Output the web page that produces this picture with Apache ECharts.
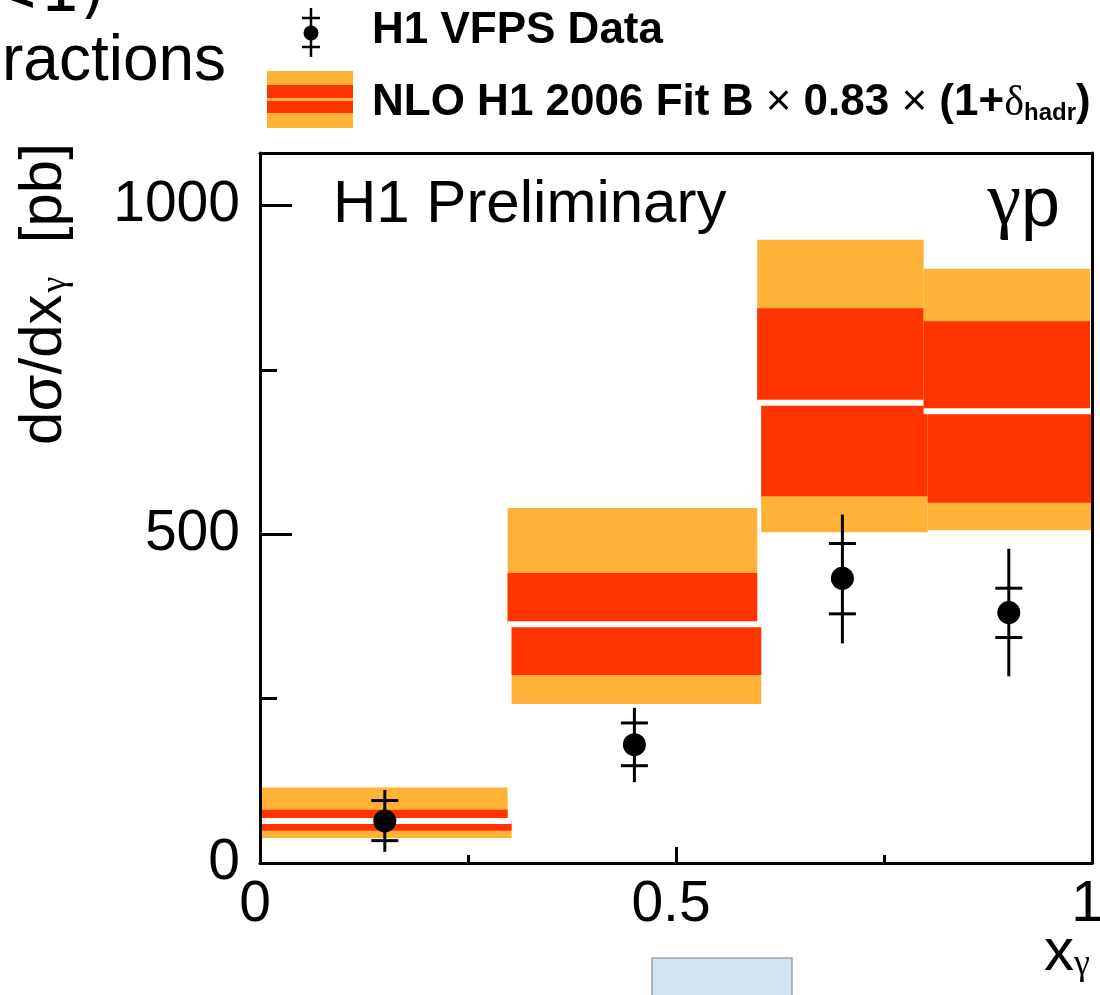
<!DOCTYPE html>
<html>
<head>
<meta charset="utf-8">
<script src="https://cdn.jsdelivr.net/npm/echarts@6/dist/echarts.min.js"></script>
<style>
html,body{margin:0;padding:0;background:#fff;}
#chart{width:1100px;height:995px;}
</style>
</head>
<body>
<div id="chart"></div>
<script>
// ---- data ----
var binLo = [0.0, 0.3, 0.6, 0.8];
var binHi = [0.3, 0.6, 0.8, 1.0];
var nloCentral = [64, 363, 700, 687];
var nloScaleLo = [49, 286, 558, 548];
var nloScaleHi = [81, 441, 844, 824];
var nloTotLo = [38, 242, 503, 506];
var nloTotHi = [115, 540, 948, 904];

var dataX = [0.15, 0.45, 0.70, 0.90];
var dataY = [64, 180, 433, 381];
var statLo = [34, 148, 379, 343];
var statHi = [95, 213, 486, 418];
var totLo = [17, 123, 334, 284];
var totHi = [111, 236, 530, 478];

var xTickLabels = {0: '0', 0.5: '0.5', 1: '1'};
var yMajorTicks = [0, 500, 1000];
var yMinorTicks = [250, 750];

// ---- styles ----
var ORANGE = '#ffb235';
var RED = '#ff3300';
var FONT = '"Liberation Sans", Arial, Helvetica, sans-serif';
var GREEK = '"Liberation Serif", "Times New Roman", serif';

var chart = echarts.init(document.getElementById('chart'), null, {renderer: 'canvas'});

var bandData = binLo.map(function (v, i) {
  return [v, binHi[i], nloTotLo[i], nloScaleLo[i], nloCentral[i], nloScaleHi[i], nloTotHi[i]];
});
var errData = dataX.map(function (v, i) {
  return [v, dataY[i], statLo[i], statHi[i], totLo[i], totHi[i]];
});
var pointData = dataX.map(function (v, i) { return [v, dataY[i]]; });

function renderBand(params, api) {
  var cs = params.coordSys;
  var xa = api.coord([api.value(0), 0])[0];
  var xb = api.coord([api.value(1), 0])[0];
  var yTL = api.coord([0, api.value(2)])[1];
  var ySL = api.coord([0, api.value(3)])[1];
  var yC = api.coord([0, api.value(4)])[1];
  var ySH = api.coord([0, api.value(5)])[1];
  var yTH = api.coord([0, api.value(6)])[1];
  function clampX(x) { return Math.max(cs.x, Math.min(cs.x + cs.width, x)); }
  // upper half drawn slightly to the left, lower half slightly to the right
  var uL = clampX(xa - 2), uR = clampX(xb - 2);
  var lL = clampX(xa + 2), lR = clampX(xb + 2);
  var wL = clampX(xa - 2), wR = clampX(xb + 2);
  return {
    type: 'group',
    children: [
      {type: 'rect', shape: {x: uL, y: yTH, width: uR - uL, height: yC - yTH}, style: {fill: ORANGE}},
      {type: 'rect', shape: {x: uL, y: ySH, width: uR - uL, height: yC - ySH}, style: {fill: RED}},
      {type: 'rect', shape: {x: lL, y: yC, width: lR - lL, height: yTL - yC}, style: {fill: ORANGE}},
      {type: 'rect', shape: {x: lL, y: yC, width: lR - lL, height: ySL - yC}, style: {fill: RED}},
      {type: 'rect', shape: {x: wL, y: yC - 3, width: wR - wL, height: 6}, style: {fill: '#ffffff'}}
    ]
  };
}

function renderErr(params, api) {
  var x = api.coord([api.value(0), 0])[0];
  var yS1 = api.coord([0, api.value(2)])[1];
  var yS2 = api.coord([0, api.value(3)])[1];
  var yT1 = api.coord([0, api.value(4)])[1];
  var yT2 = api.coord([0, api.value(5)])[1];
  var hw = 13.5;
  var st = {stroke: '#000', lineWidth: 3};
  return {
    type: 'group',
    children: [
      {type: 'line', shape: {x1: x, y1: yT1, x2: x, y2: yT2}, style: st},
      {type: 'line', shape: {x1: x - hw, y1: yS1, x2: x + hw, y2: yS1}, style: st},
      {type: 'line', shape: {x1: x - hw, y1: yS2, x2: x + hw, y2: yS2}, style: st}
    ]
  };
}

var axisLineStyle = {color: '#000', width: 3};

var option = {
  backgroundColor: '#ffffff',
  animation: false,
  grid: {left: 260, right: 8, top: 153, bottom: 132, containLabel: false, outerBoundsMode: 'none'},
  xAxis: [
    {
      type: 'value', min: 0, max: 1, interval: 0.5, position: 'bottom', z: 10,
      axisLine: {show: true, onZero: false, lineStyle: axisLineStyle},
      axisTick: {show: true, inside: true, length: 16, lineStyle: {color: '#000', width: 3}},
      minorTick: {show: true, splitNumber: 2, length: 8, lineStyle: {color: '#000', width: 3}},
      splitLine: {show: false},
      axisLabel: {
        show: true, fontSize: 57, fontFamily: FONT, color: '#000', margin: 14,
        padding: [0, 10, 0, 0], hideOverlap: false,
        formatter: function (v) { return xTickLabels[v] !== undefined ? xTickLabels[v] : ''; }
      }
    },
    {
      type: 'value', min: 0, max: 1, position: 'top', z: 10,
      axisLine: {show: true, onZero: false, lineStyle: axisLineStyle},
      axisTick: {show: false}, axisLabel: {show: false}, splitLine: {show: false}
    }
  ],
  yAxis: [
    {
      type: 'value', min: 0, max: 1080, position: 'left', z: 10,
      axisLine: {show: true, onZero: false, lineStyle: axisLineStyle},
      axisTick: {show: true, inside: true, length: 32, customValues: yMajorTicks, lineStyle: {color: '#000', width: 3}},
      axisLabel: {show: true, customValues: yMajorTicks, fontSize: 57, fontFamily: FONT, color: '#000', margin: 20,
        formatter: function (v) { return String(v); }},
      splitLine: {show: false}
    },
    {
      type: 'value', min: 0, max: 1080, position: 'left', z: 10,
      axisLine: {show: false},
      axisTick: {show: true, inside: true, length: 17, customValues: yMinorTicks, lineStyle: {color: '#000', width: 3}},
      axisLabel: {show: false}, splitLine: {show: false}
    },
    {
      type: 'value', min: 0, max: 1080, position: 'right', z: 10,
      axisLine: {show: true, onZero: false, lineStyle: axisLineStyle},
      axisTick: {show: false}, axisLabel: {show: false}, splitLine: {show: false}
    }
  ],
  series: [
    {
      type: 'custom', name: 'NLO', xAxisIndex: 0, yAxisIndex: 0, z: 2,
      renderItem: renderBand, data: bandData,
      encode: {x: [0, 1], y: [2, 6]}
    },
    {
      type: 'custom', name: 'err', xAxisIndex: 0, yAxisIndex: 0, z: 5,
      renderItem: renderErr, data: errData,
      encode: {x: 0, y: [4, 5]}
    },
    {
      type: 'scatter', name: 'H1 VFPS Data', xAxisIndex: 0, yAxisIndex: 0, z: 6,
      symbol: 'circle', symbolSize: 23, itemStyle: {color: '#000', opacity: 1},
      data: pointData
    }
  ],
  graphic: [
    // partial text cut at the top-left
    {type: 'text', x: -14, y: -6, style: {text: '<1)', fontSize: 64, fontFamily: '"DejaVu Sans", sans-serif', fill: '#000', align: 'left', verticalAlign: 'middle'}},
    {type: 'text', x: 2, y: 62, style: {text: 'ractions', fontSize: 64, fontFamily: FONT, fill: '#000', align: 'left', verticalAlign: 'middle'}},
    // legend entry 1
    {type: 'line', shape: {x1: 311, y1: 8, x2: 311, y2: 57}, style: {stroke: '#000', lineWidth: 2.5}},
    {type: 'line', shape: {x1: 302, y1: 18, x2: 320, y2: 18}, style: {stroke: '#000', lineWidth: 2.5}},
    {type: 'line', shape: {x1: 302, y1: 47, x2: 320, y2: 47}, style: {stroke: '#000', lineWidth: 2.5}},
    {type: 'circle', shape: {cx: 311, cy: 33, r: 7.5}, style: {fill: '#000'}},
    {type: 'text', x: 372, y: 31, style: {text: 'H1 VFPS Data', fontSize: 44, fontWeight: 'bold', fontFamily: FONT, fill: '#000', align: 'left', verticalAlign: 'middle'}},
    // legend entry 2
    {type: 'rect', shape: {x: 267, y: 71, width: 86, height: 57}, style: {fill: ORANGE}},
    {type: 'rect', shape: {x: 267, y: 85, width: 86, height: 13}, style: {fill: RED}},
    {type: 'rect', shape: {x: 267, y: 101, width: 86, height: 12}, style: {fill: RED}},
    {type: 'text', x: 372, y: 100, style: {
      text: '{b|NLO H1 2006 Fit B }{n|×}{b| 0.83 }{n|×}{b| (1+}{d|δ}{s|hadr}{b|)}',
      fill: '#000', align: 'left', verticalAlign: 'middle',
      rich: {
        b: {fontSize: 44, fontWeight: 'bold', fontFamily: FONT, fill: '#000', lineHeight: 50, verticalAlign: 'bottom'},
        n: {fontSize: 44, fontFamily: FONT, fill: '#000', lineHeight: 50, verticalAlign: 'bottom'},
        d: {fontSize: 42, fontFamily: GREEK, fill: '#000', lineHeight: 48, verticalAlign: 'bottom'},
        s: {fontSize: 24, fontWeight: 'bold', fontFamily: FONT, fill: '#000', lineHeight: 28, verticalAlign: 'bottom'}
      }
    }},
    // in-plot labels
    {type: 'text', x: 333, y: 205, z: 20, style: {text: 'H1 Preliminary', fontSize: 60, fontFamily: FONT, fill: '#000', align: 'left', verticalAlign: 'middle'}},
    {type: 'text', x: 1060, y: 202, z: 20, style: {
      text: '{g|γ}{p|p}', align: 'right', verticalAlign: 'middle',
      rich: {
        g: {fontSize: 76, fontFamily: GREEK, fill: '#000', lineHeight: 80, verticalAlign: 'bottom'},
        p: {fontSize: 70, fontFamily: FONT, fill: '#000', lineHeight: 80, verticalAlign: 'bottom'}
      }
    }},
    // axis titles
    {type: 'text', x: 40, y: 294, rotation: Math.PI / 2, style: {
      text: '{m|dσ/dx}{s|γ}{m|  [pb]}', align: 'center', verticalAlign: 'middle',
      rich: {
        m: {fontSize: 60, fontFamily: FONT, fill: '#000', lineHeight: 68, verticalAlign: 'bottom'},
        s: {fontSize: 36, fontFamily: GREEK, fill: '#000', lineHeight: 40, verticalAlign: 'bottom', padding: [0, 0, 0, 2]}
      }
    }},
    {type: 'text', x: 1090, y: 953, style: {
      text: '{m|x}{s|γ}', align: 'right', verticalAlign: 'middle',
      rich: {
        m: {fontSize: 60, fontFamily: FONT, fill: '#000', lineHeight: 60, verticalAlign: 'bottom'},
        s: {fontSize: 36, fontFamily: GREEK, fill: '#000', lineHeight: 30, verticalAlign: 'bottom'}
      }
    }},
    // light blue box at the bottom (cut)
    {type: 'rect', shape: {x: 652, y: 958, width: 140, height: 60}, style: {fill: '#cfe5f3', stroke: '#a0a0a0', lineWidth: 1.5}}
  ]
};

chart.setOption(option);
</script>
</body>
</html>
